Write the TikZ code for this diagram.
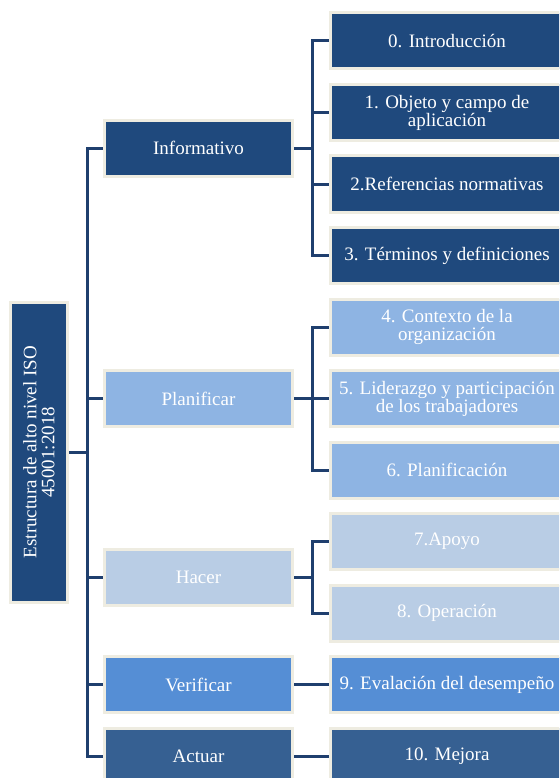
\documentclass[tikz,border=0pt]{standalone}
\usepackage{fontspec}
\setmainfont{Liberation Serif}
\usetikzlibrary{positioning,calc}
\definecolor{navy}{HTML}{1F497D}
\definecolor{planblue}{HTML}{8EB4E3}
\definecolor{hacblue}{HTML}{B9CDE5}
\definecolor{verblue}{HTML}{558ED5}
\definecolor{actblue}{HTML}{366092}
\definecolor{cream}{HTML}{EEECE1}
\definecolor{linkblue}{HTML}{1F3F6E}

\begin{document}
\begin{tikzpicture}[x=1pt,y=-1pt,node distance=71.5pt,on grid,
  box/.style={draw=cream,line width=3pt,minimum height=56pt,text=white,
              align=center,font=\fontsize{19}{18}\selectfont},
  head/.style={box,minimum width=188pt},
  sub/.style={box,minimum width=233pt},
  link/.style={draw=linkblue,line width=3pt}]
   \clip (0,0) rectangle (559,778);

   \node[sub,fill=navy]     (c0) at (447,41)   {0. Introducción};
   \node[sub,fill=navy]     (c1) [below=of c0] {1. Objeto y campo de\\aplicación};
   \node[sub,fill=navy]     (c2) [below=of c1] {2.Referencias normativas};
   \node[sub,fill=navy]     (c3) [below=of c2] {3. Términos y definiciones};
   \node[sub,fill=planblue] (c4) [below=of c3] {4. Contexto de la\\organización};
   \node[sub,fill=planblue] (c5) [below=of c4] {5. Liderazgo y participación\\de los trabajadores};
   \node[sub,fill=planblue] (c6) [below=of c5] {6. Planificación};
   \node[sub,fill=hacblue]  (c7) [below=of c6] {7.Apoyo};
   \node[sub,fill=hacblue]  (c8) [below=of c7] {8. Operación};
   \node[sub,fill=verblue]  (c9) [below=of c8] {9. Evalación del desempeño};
   \node[sub,fill=actblue]  (c10) [below=of c9] {10. Mejora};

   \node[head,fill=navy]     (inf) at ($(c1)!.5!(c2)+(-248.5,0)$) {Informativo};
   \node[head,fill=planblue] (pla) at ($(c5)+(-248.5,0)$) {Planificar};
   \node[head,fill=hacblue]  (hac) at ($(c7)!.5!(c8)+(-248.5,0)$) {Hacer};
   \node[head,fill=verblue]  (ver) at ($(c9)+(-248.5,0)$) {Verificar};
   \node[head,fill=actblue]  (act) at ($(c10)+(-248.5,0)$) {Actuar};

   \node[box,fill=navy,rotate=90,minimum width=300pt,minimum height=57pt]
        (root) at ($(inf)!.5!(act)+(-159.5,0)$) {Estructura de alto nivel ISO\\45001:2018};

   % trunk
   \foreach \n in {inf,pla,hac,ver,act}
     \draw[link] (root.south) -- ++(18,0) |- (\n.west);
   % branches
   \foreach \c in {c0,c1,c2,c3}
     \draw[link] (inf.east) -- ++(18,0) |- (\c.west);
   \foreach \c in {c4,c5,c6}
     \draw[link] (pla.east) -- ++(18,0) |- (\c.west);
   \foreach \c in {c7,c8}
     \draw[link] (hac.east) -- ++(18,0) |- (\c.west);
   \draw[link] (ver) -- (c9);
   \draw[link] (act) -- (c10);
\end{tikzpicture}
\end{document}
